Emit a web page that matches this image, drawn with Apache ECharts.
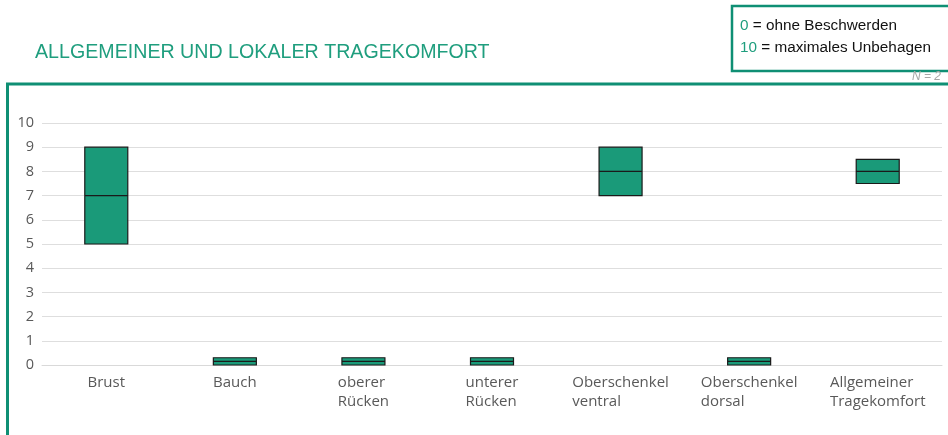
<!DOCTYPE html>
<html><head><meta charset="utf-8">
<script src="https://cdn.jsdelivr.net/npm/echarts@6/dist/echarts.min.js"></script>
<style>html,body{margin:0;padding:0;background:#fff}#c{width:948px;height:435px}</style>
</head><body><div id="c"></div>
<script>
const categories = ["Brust", "Bauch", "oberer\nRücken", "unterer\nRücken", "Oberschenkel\nventral", "Oberschenkel\ndorsal", "Allgemeiner\nTragekomfort"];
const lowValues = [5, 0, 0, 0, 7, 0, 7.5];
const medianValues = [7, 0.15, 0.15, 0.15, 8, 0.15, 8];
const highValues = [9, 0.3, 0.3, 0.3, 9, 0.3, 8.5];
const yTicks = [0, 1, 2, 3, 4, 5, 6, 7, 8, 9, 10];

const boxData = categories.map((c, i) => [lowValues[i], lowValues[i], medianValues[i], highValues[i], highValues[i]]);
const GREEN = '#0f8f74';
const LF = 'Liberation Sans, Arial';
const chart = echarts.init(document.getElementById('c'), null, {renderer: 'canvas'});
chart.setOption({
  animation: false,
  backgroundColor: '#fff',
  graphic: [
    {type: 'rect', shape: {x: 7.5, y: 84, width: 1000, height: 400}, style: {fill: 'none', stroke: GREEN, lineWidth: 3}, z: 0},
    {type: 'rect', shape: {x: 732, y: 6, width: 300, height: 65}, style: {fill: '#fff', stroke: GREEN, lineWidth: 2.5}, z: 1},
    {type: 'text', x: 35, y: 42, scaleX: 0.935, style: {text: 'ALLGEMEINER UND LOKALER TRAGEKOMFORT', fill: '#1f9e7e', fontSize: 21, fontFamily: LF}, z: 2},
    {type: 'text', left: 740, top: 18, style: {rich: {g: {fill: '#1f9e7e', fontSize: 15.3, fontFamily: LF}, b: {fill: '#111', fontSize: 15.3, fontFamily: LF}}, text: '{g|0}{b| = ohne Beschwerden}'}, z: 2},
    {type: 'text', left: 740, top: 40, style: {rich: {g: {fill: '#1f9e7e', fontSize: 15.3, fontFamily: LF}, b: {fill: '#111', fontSize: 15.3, fontFamily: LF}}, text: '{g|10}{b| = maximales Unbehagen}'}, z: 2},
    {type: 'text', right: 7, top: 71, style: {text: 'N = 2', fill: '#a6a6a6', fontSize: 12, fontStyle: 'italic', fontFamily: LF}, z: 2}
  ],
  grid: {left: 42, right: 6, top: 123, bottom: 70, containLabel: false},
  xAxis: {
    type: 'category', data: categories,
    axisLine: {lineStyle: {color: '#d9d9d9'}},
    axisTick: {show: false},
    axisLabel: {
      margin: 8, interval: 0,
      formatter: v => v.split('\n').map(l => '{l|' + l + '}').join('\n'),
      rich: {l: {align: 'left', fontSize: 15, lineHeight: 19, color: '#595959', fontFamily: 'Open Sans, Noto Sans, sans-serif'}}
    },
    splitLine: {show: false}
  },
  yAxis: {
    type: 'value', min: yTicks[0], max: yTicks[yTicks.length - 1], interval: 1,
    axisLine: {show: false}, axisTick: {show: false},
    axisLabel: {margin: 8, fontSize: 14.5, color: '#595959', fontFamily: 'Open Sans, Noto Sans, sans-serif'},
    splitLine: {lineStyle: {color: '#dedede', width: 1}}
  },
  series: [{
    type: 'boxplot',
    data: boxData,
    boxWidth: [43, 43],
    itemStyle: {color: '#1a9a79', borderColor: '#1a1a1a', borderWidth: 1.2},
    emphasis: {disabled: true}
  }]
});
</script></body></html>
